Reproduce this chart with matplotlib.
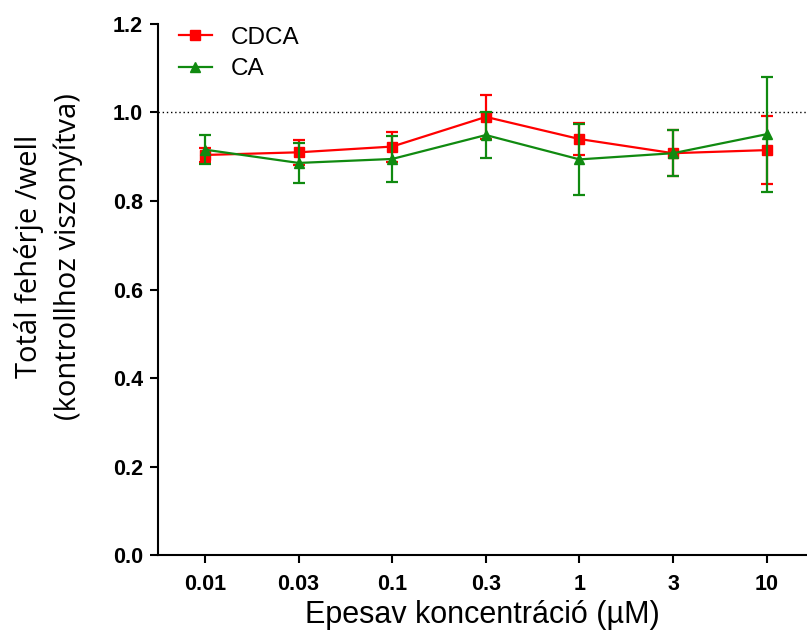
import matplotlib
matplotlib.use('Agg')
import matplotlib.pyplot as plt
import numpy as np

# data
concentrations = ['0.01', '0.03', '0.1', '0.3', '1', '3', '10']
cdca_mean = [0.904, 0.910, 0.923, 0.990, 0.940, 0.908, 0.915]
cdca_err = [0.015, 0.028, 0.034, 0.050, 0.036, 0.052, 0.076]
ca_mean = [0.916, 0.886, 0.895, 0.949, 0.894, 0.908, 0.951]
ca_err = [0.033, 0.045, 0.051, 0.051, 0.080, 0.052, 0.130]
y_ticks = [0.0, 0.2, 0.4, 0.6, 0.8, 1.0, 1.2]

plt.rcParams['font.family'] = ['Liberation Sans', 'DejaVu Sans']

fig = plt.figure(figsize=(8.07, 6.31), dpi=100)
ax = fig.add_axes([0.196, 0.1204, 0.804, 0.8416])

x = np.arange(len(concentrations))

ax.axhline(1.0, color='black', linestyle=(0, (1, 2)), linewidth=1.0, zorder=1)

cdca = ax.errorbar(x, cdca_mean, yerr=cdca_err, color='#ff0000', marker='s', markersize=7,
                   linewidth=1.6, capsize=4, capthick=1.6, elinewidth=1.6, label='CDCA', zorder=3)
ca = ax.errorbar(x, ca_mean, yerr=ca_err, color='#108a10', marker='^', markersize=7,
                 linewidth=1.6, capsize=4, capthick=1.6, elinewidth=1.6, label='CA', zorder=4)

ax.set_xlim(-0.5, 6.43)
ax.set_ylim(0, 1.2)
ax.set_xticks(x)
ax.set_xticklabels(concentrations, fontsize=15.5, fontweight='bold')
ax.set_yticks(y_ticks)
ax.set_yticklabels([f'{t:.1f}' for t in y_ticks], fontsize=15.5, fontweight='bold')
ax.tick_params(axis='both', direction='out', length=6, width=1.5)
ax.tick_params(axis='x', pad=8)
ax.tick_params(axis='y', pad=5)

for side in ['top', 'right']:
    ax.spines[side].set_visible(False)
for side in ['left', 'bottom']:
    ax.spines[side].set_linewidth(1.5)

ax.set_xlabel('Epesav koncentráció (µM)', fontsize=22, labelpad=3)
fig.text(0.06, 0.594, 'Totál fehérje /well\n(kontrollhoz viszonyítva)', rotation=90,
         ha='center', va='center', fontsize=21, family=['Open Sans', 'DejaVu Sans'],
         linespacing=1.45)

ax.legend(handles=[cdca[0], ca[0]], labels=['CDCA', 'CA'], loc='upper left',
          bbox_to_anchor=(0.032, 0.995), frameon=False, fontsize=17.5,
          handlelength=1.35, handletextpad=0.8, borderaxespad=0, borderpad=0,
          labelspacing=0.4)

fig.savefig('out.png', dpi=100)
